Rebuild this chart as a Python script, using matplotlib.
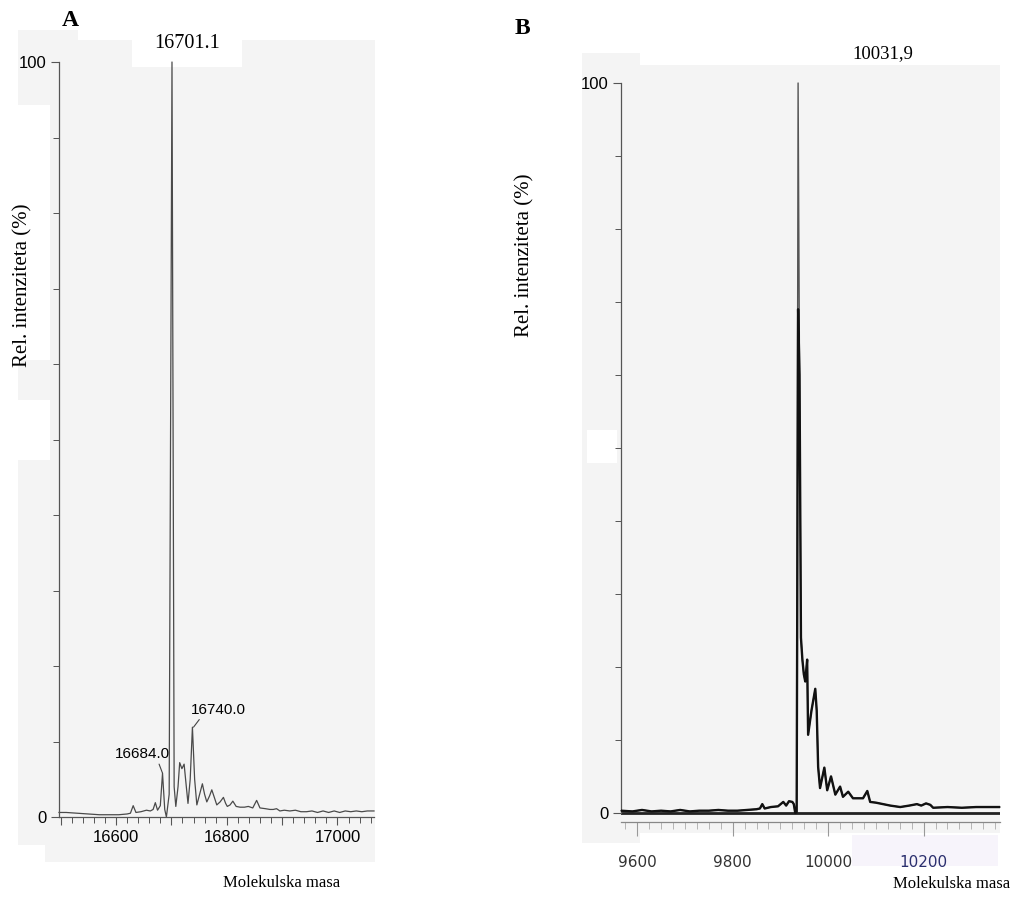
import numpy as np
import matplotlib
matplotlib.use("Agg")
import matplotlib.pyplot as plt
from matplotlib.patches import Rectangle
from matplotlib.ticker import MultipleLocator, FixedLocator, FuncFormatter

# --- panel A: spektar (masa, rel. intenzitet %) ---
mass_a = [16497, 16510, 16530, 16550, 16570, 16590, 16605, 16620, 16626, 16631,
          16636, 16645, 16655, 16662, 16667, 16671, 16675, 16680, 16684, 16688,
          16691, 16696, 16701.1, 16705, 16708, 16712, 16715, 16719, 16723, 16727,
          16730, 16734, 16738, 16742, 16746, 16751, 16756, 16760, 16764, 16769,
          16773, 16778, 16782, 16788, 16794, 16798, 16801, 16806, 16811, 16817,
          16824, 16832, 16839, 16847, 16854, 16860, 16870, 16878, 16884, 16890,
          16896, 16904, 16914, 16924, 16934, 16944, 16954, 16964, 16974, 16984,
          16994, 17004, 17014, 17024, 17034, 17044, 17054, 17066]
int_a = [0.6, 0.6, 0.5, 0.4, 0.3, 0.3, 0.3, 0.4, 0.5, 1.5,
         0.6, 0.7, 0.9, 0.8, 1.0, 1.9, 0.9, 1.5, 5.8, 1.0,
         0.0, 3.0, 100, 4.0, 1.4, 4.0, 7.2, 6.4, 7.0, 4.0,
         1.8, 5.0, 11.9, 5.0, 1.6, 3.0, 4.4, 3.0, 2.0, 2.8,
         3.6, 2.5, 1.6, 2.0, 2.6, 1.8, 1.4, 1.6, 2.1, 1.4,
         1.3, 1.3, 1.4, 1.2, 2.2, 1.2, 1.1, 1.0, 1.0, 1.1,
         0.8, 0.9, 0.8, 0.9, 0.7, 0.7, 0.8, 0.6, 0.8, 0.6,
         0.8, 0.6, 0.8, 0.7, 0.8, 0.7, 0.8, 0.8]
peaks_a = [16684.0, 16740.0]
peak_a_h = [5.8, 11.9]

# --- panel B ---
mass_b = [9566, 9590, 9610, 9630, 9650, 9670, 9690, 9710, 9730, 9750,
          9770, 9790, 9810, 9830, 9850, 9857, 9862, 9867, 9880, 9895,
          9906, 9912, 9918, 9925, 9928, 9931, 9934, 9937, 9940, 9943,
          9946, 9949, 9952, 9956, 9958, 9965, 9973, 9976, 9979, 9983,
          9992, 9998, 10006, 10015, 10025, 10031, 10042, 10052, 10063, 10073,
          10082, 10088, 10100, 10115, 10130, 10151, 10170, 10186, 10195, 10205,
          10214, 10220, 10250, 10280, 10310, 10340, 10360]
int_b = [0.3, 0.2, 0.4, 0.2, 0.3, 0.2, 0.4, 0.2, 0.3, 0.3,
         0.4, 0.3, 0.3, 0.4, 0.5, 0.6, 1.2, 0.6, 0.8, 0.9,
         1.5, 1.0, 1.6, 1.5, 1.2, 0.0, 0.1, 100, 60, 24,
         21, 19, 18, 21, 10.7, 14, 17, 14, 6.3, 3.4,
         6.2, 3.1, 5.0, 2.5, 3.6, 2.2, 2.9, 2.0, 2.0, 2.0,
         3.0, 1.5, 1.4, 1.2, 1.0, 0.8, 1.0, 1.2, 1.0, 1.3,
         1.1, 0.7, 0.8, 0.7, 0.8, 0.8, 0.8]
thick_top_b = 69  # crni (debeli) dio traga ide samo do ~69 %

W, H = 1013, 907
GREY = "#f4f4f4"

fig = plt.figure(figsize=(W / 100, H / 100), dpi=100)
fig.patch.set_facecolor("white")


def box(x0, y0, x1, y1, color):
    # pravokutnik u pikselima slike (y prema dolje)
    fig.add_artist(Rectangle((x0 / W, 1 - y1 / H), (x1 - x0) / W, (y1 - y0) / H,
                             transform=fig.transFigure, color=color, zorder=-5, lw=0))


# sive pozadine (kolaž skeniranih slika)
box(18, 30, 78, 862, GREY)
box(78, 40, 375, 862, GREY)
box(18, 105, 50, 360, "white")
box(18, 400, 50, 460, "white")
box(18, 845, 45, 862, "white")
box(582, 53, 640, 843, GREY)
box(640, 65, 1000, 833, GREY)
box(587, 430, 617, 463, "white")
box(852, 835, 998, 866, "#f7f4fb")

sans = ["Liberation Sans", "DejaVu Sans"]
serif = ["Liberation Serif", "DejaVu Serif"]

# ---------------- A ----------------
axa = fig.add_axes([59 / W, 1 - 817 / H, 315 / W, 755 / H])
axa.set_facecolor("none")
axa.plot(mass_a, int_a, color="#4a4a4a", lw=0.9, clip_on=False)
axa.set_xlim(16497, 17066)
axa.set_ylim(0, 100)
for s in ["top", "right"]:
    axa.spines[s].set_visible(False)
for s in ["left", "bottom"]:
    axa.spines[s].set_color("#555555")
    axa.spines[s].set_linewidth(0.9)
axa.xaxis.set_major_locator(MultipleLocator(100))
axa.xaxis.set_minor_locator(MultipleLocator(20))
axa.xaxis.set_major_formatter(FuncFormatter(lambda v, p: f"{v:.0f}" if round(v) % 200 == 0 else ""))
axa.yaxis.set_major_locator(FixedLocator([0, 100]))
axa.yaxis.set_minor_locator(MultipleLocator(10))
axa.tick_params(axis="both", which="major", length=6, width=0.8, color="#555555",
                labelsize=12, pad=3)
axa.tick_params(axis="both", which="minor", length=4, width=0.7, color="#555555")
for lab in axa.get_xticklabels() + axa.get_yticklabels():
    lab.set_family(sans)

axa.annotate("16684.0", xy=(peaks_a[0], peak_a_h[0]), xytext=(16648, 8.3),
             ha="center", va="center", fontsize=11, family=sans,
             arrowprops=dict(arrowstyle="-", color="#444444", lw=0.8,
                             relpos=(0.78, 0.0), shrinkA=0, shrinkB=0))
axa.annotate("16740.0", xy=(peaks_a[1], peak_a_h[1]), xytext=(16784, 14.2),
             ha="center", va="center", fontsize=11, family=sans,
             arrowprops=dict(arrowstyle="-", color="#444444", lw=0.8,
                             relpos=(0.2, 0.0), shrinkA=0, shrinkB=0))

box(132, 32, 242, 67, "white")
fig.text(187 / W, 1 - 44 / H, "16701.1", ha="center", va="center", fontsize=14.5, family=serif)
fig.text(70 / W, 1 - 20 / H, "A", ha="center", va="center", fontsize=17,
         fontweight="bold", family=serif)
fig.text(23 / W, 1 - 285 / H, "Rel. intenziteta (%)", rotation=90, ha="center",
         va="center", fontsize=15, family=serif)
fig.text(282 / W, 1 - 883 / H, "Molekulska masa", ha="center", va="center",
         fontsize=12, family=serif)

# ---------------- B ----------------
axb = fig.add_axes([621 / W, 1 - 822 / H, 379 / W, 739 / H])
axb.set_facecolor("none")
axb.set_xlim(9566, 10360)
axb.set_ylim(-1.25, 100)
axb.axhline(0, color="#222222", lw=2.0, zorder=1)
axb.plot(mass_b, int_b, color="#555555", lw=1.0, clip_on=False, zorder=2)
axb.plot(mass_b, np.minimum(int_b, thick_top_b), color="#111111", lw=1.7, zorder=3)
for s in ["top", "right"]:
    axb.spines[s].set_visible(False)
axb.spines["left"].set_bounds(0, 100)
axb.spines["left"].set_color("#555555")
axb.spines["left"].set_linewidth(0.9)
axb.spines["bottom"].set_color("#888888")
axb.spines["bottom"].set_linewidth(0.9)
axb.xaxis.set_major_locator(MultipleLocator(200))
axb.xaxis.set_minor_locator(MultipleLocator(25))
axb.yaxis.set_major_locator(FixedLocator([0, 100]))
axb.yaxis.set_minor_locator(FixedLocator(list(range(10, 100, 10))))
axb.tick_params(axis="y", which="major", length=6, width=0.8, color="#555555",
                labelsize=12, pad=3)
axb.tick_params(axis="y", which="minor", length=4, width=0.7, color="#555555")
axb.tick_params(axis="x", which="major", length=10, width=0.8, color="#999999",
                labelsize=11, pad=14, labelcolor="#333333")
axb.tick_params(axis="x", which="minor", length=5, width=0.6, color="#aaaaaa")
for lab in axb.get_yticklabels():
    lab.set_family(sans)
for lab in axb.get_xticklabels():
    lab.set_family(["DejaVu Sans"])
    if lab.get_text() == "10200":
        lab.set_color("#2b2f6e")

fig.text(522 / W, 1 - 28 / H, "B", ha="center", va="center", fontsize=17,
         fontweight="bold", family=serif)
fig.text(883 / W, 1 - 54 / H, "10031,9", ha="center", va="center", fontsize=13.5, family=serif)
fig.text(525 / W, 1 - 255 / H, "Rel. intenziteta (%)", rotation=90, ha="center",
         va="center", fontsize=15, family=serif)
fig.text(952 / W, 1 - 884 / H, "Molekulska masa", ha="center", va="center",
         fontsize=12, family=serif)

fig.savefig("out.png", dpi=100)
